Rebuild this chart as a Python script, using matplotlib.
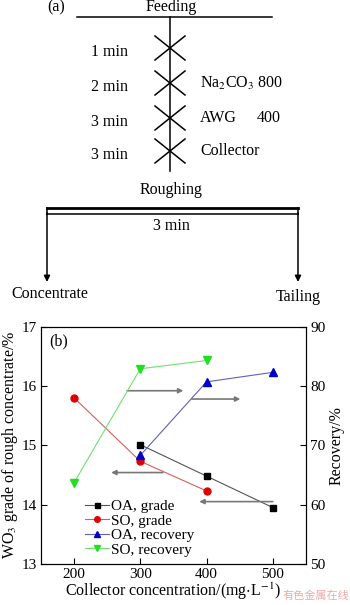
import matplotlib.pyplot as plt

plt.rcParams['font.family'] = ['Liberation Serif', 'DejaVu Serif']
plt.rcParams['mathtext.fontset'] = 'stix'

# flowsheet text
step_times = ['1 min', '2 min', '3 min', '3 min']
step_reagents = ['', 'Na$_2$CO$_3$ 800', 'AWG', 'Collector']
step_doses = ['', '', '400', '']

# chart data
conc = [200, 300, 400, 500]
oa_grade = [None, 15.01, 14.48, 13.95]
so_grade = [15.80, 14.73, 14.23, None]
oa_recovery = [None, 68.3, 80.7, 82.3]
so_recovery = [63.7, 82.9, 84.3, None]


def pairs(xs, ys):
    pts = [(x, y) for x, y in zip(xs, ys) if y is not None]
    return [p[0] for p in pts], [p[1] for p in pts]


fig = plt.figure(figsize=(3.5, 6.05), dpi=100)
fs = 11.5

# ---- (a) flowsheet, drawn in pixel coordinates ----
fa = fig.add_axes([0, 0, 1, 1])
fa.set_xlim(0, 350)
fa.set_ylim(605, 0)
fa.axis('off')
lw = 1.1
fa.text(56, 7, '(a)', fontsize=fs, ha='center', va='center')
fa.text(171, 7, 'Feeding', fontsize=fs, ha='center', va='center')
fa.plot([77, 272], [17, 17], color='black', lw=lw)
fa.plot([170, 170], [17, 171], color='black', lw=lw)
ys = [48, 83, 118, 151]
for i, y in enumerate(ys):
    fa.plot([155, 185], [y - 12, y + 12], color='black', lw=lw)
    fa.plot([155, 185], [y + 12, y - 12], color='black', lw=lw)
    fa.text(128, y + 4, step_times[i], fontsize=fs, ha='right', va='center')
    if step_reagents[i]:
        fa.text(200, y, step_reagents[i], fontsize=fs, ha='left', va='center')
    if step_doses[i]:
        fa.text(257, y, step_doses[i], fontsize=fs, ha='left', va='center')
fa.text(171, 190, 'Roughing', fontsize=fs, ha='center', va='center')
fa.plot([47, 298], [208, 208], color='black', lw=2)
fa.plot([47, 298], [214, 214], color='black', lw=lw)
fa.plot([47, 47], [208, 214], color='black', lw=lw)
fa.plot([298, 298], [208, 214], color='black', lw=lw)
fa.text(171, 226, '3 min', fontsize=fs, ha='center', va='center')
for x in [47, 298]:
    fa.annotate('', xy=(x, 282), xytext=(x, 213),
                arrowprops=dict(arrowstyle='-|>', color='black', lw=lw,
                                mutation_scale=9, shrinkA=0, shrinkB=0))
fa.text(50, 294, 'Concentrate', fontsize=fs, ha='center', va='center')
fa.text(298, 297, 'Tailing', fontsize=fs, ha='center', va='center')

# ---- (b) chart ----
ax = fig.add_axes([0.117, 0.068, 0.757, 0.392])
ax2 = ax.twinx()

x, y = pairs(conc, oa_grade)
l1, = ax.plot(x, y, color='#555555', lw=0.8, marker='s', ms=4.5,
              mfc='black', mec='black', label='OA, grade')
x, y = pairs(conc, so_grade)
l2, = ax.plot(x, y, color='#d06060', lw=0.8, marker='o', ms=5,
              mfc='#e00000', mec='#e00000', label='SO, grade')
x, y = pairs(conc, oa_recovery)
l3, = ax2.plot(x, y, color='#6060c0', lw=0.8, marker='^', ms=5.5,
               mfc='#0000c8', mec='#0000c8', label='OA, recovery')
x, y = pairs(conc, so_recovery)
l4, = ax2.plot(x, y, color='#70e070', lw=0.8, marker='v', ms=5.5,
               mfc='#20e020', mec='#20e020', label='SO, recovery')

ax.set_xlim(150, 550)
ax.set_ylim(13, 17)
ax2.set_ylim(50, 90)
ax.set_xticks([200, 300, 400, 500])
ax.set_yticks([13, 14, 15, 16, 17])
ax2.set_yticks([50, 60, 70, 80, 90])
ax.tick_params(direction='in', length=4, labelsize=11, pad=3)
ax2.tick_params(direction='in', length=4, labelsize=11, pad=3)
ax.set_xlabel('Collector concentration/(mg$\\cdot$L$^{-1}$)', fontsize=fs, labelpad=0)
ax.set_ylabel('WO$_3$ grade of rough concentrate/%', fontsize=fs, labelpad=1)
ax2.set_ylabel('Recovery/%', fontsize=fs, labelpad=2)
ax.text(0.03, 0.97, '(b)', transform=ax.transAxes, fontsize=fs, va='top')

# direction arrows (left axis units)
arrows = [((280, 15.92), (365, 15.92)),
          ((378, 15.78), (451, 15.78)),
          ((334, 14.54), (256, 14.54)),
          ((500, 14.05), (389, 14.05))]
for start, end in arrows:
    ax.annotate('', xy=end, xytext=start,
                arrowprops=dict(arrowstyle='-|>', color='#777777', lw=1.2,
                                mutation_scale=7, shrinkA=0, shrinkB=0))

ax.legend(handles=[l1, l2, l3, l4], loc='lower left', bbox_to_anchor=(0.165, 0.03),
          frameon=False, fontsize=11, handlelength=1.6, handletextpad=0.15,
          labelspacing=0.05, borderaxespad=0, borderpad=0, markerscale=0.8)

# source watermark, kept clear of the axis label
fig.text(0.997, 0.006, '有色金属在线', fontsize=8, color='#f2a8a8', ha='right',
         va='bottom', family=['Noto Sans CJK SC', 'DejaVu Sans'])

fig.savefig('out.png', dpi=100)
